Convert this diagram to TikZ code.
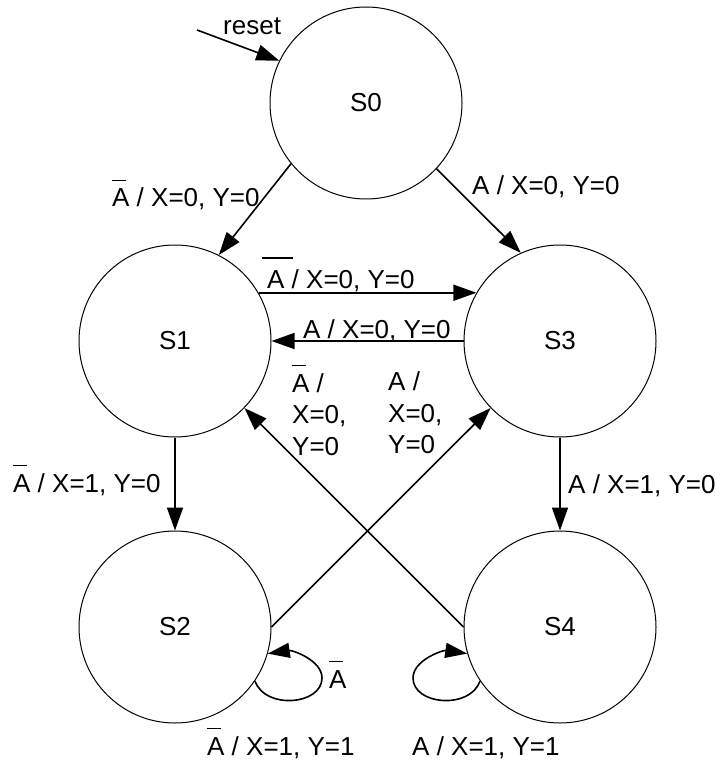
\documentclass[tikz,border=0pt]{standalone}
\usepackage{fontspec}
\setmainfont{Liberation Sans}
\usetikzlibrary{arrows.meta}
\newcommand\bA{\makebox[0pt][l]{\raisebox{1.0em}{\rule{0.53em}{0.05em}}}A}
\newcommand\wA{\makebox[0pt][l]{\hspace{-0.2em}\raisebox{1.13em}{\rule{1.2em}{0.05em}}}A}
\newcommand\lblfont{\fontsize{26}{31}\selectfont}
\begin{document}
\begin{tikzpicture}[x=1pt,y=-1pt,
  state/.style={circle,draw,line width=1pt,minimum size=192pt,inner sep=0pt,font=\lblfont},
  lab/.style={font=\lblfont,inner sep=0pt,anchor=base west},
  arr/.style={line width=1.6pt,-{Triangle[length=23pt,width=16pt]}},
  looparr/.style={line width=1.6pt,-{Triangle[length=22pt,width=15pt]}}]
\useasboundingbox (0,0) rectangle (725,767);
\node[state] (s0) at (366,103) {S0};
\node[state] (s1) at (175,341) {S1};
\node[state] (s3) at (560,341) {S3};
\node[state] (s2) at (175,627) {S2};
\node[state] (s4) at (560,627) {S4};
% reset
\coordinate (rs) at (197,30);
\draw[arr] (rs) -- (s0.154);
\node[lab] (lreset) at (223,35) {reset};
% S0 transitions
\draw[arr] (s0.219) -- (s1.63);
\node[lab] (l01) at (112,207) {\bA\ / X=0, Y=0};
\draw[arr] (s0.-43) -- (s3.114);
\node[lab] (l03) at (472,195) {A / X=0, Y=0};
% horizontal
\draw[arr] (s1.30) -- (s3.150);
\node[lab] (l13) at (267,288) {\wA\ / X=0, Y=0};
\draw[arr] (s3.west) -- (s1.east);
\node[lab] (l31) at (303,338) {A / X=0, Y=0};
% vertical
\draw[arr] (s1.south) -- (s2.north);
\node[lab] (l12) at (13,492) {\bA\ / X=1, Y=0};
\draw[arr] (s3.south) -- (s4.north);
\node[lab] (l34) at (568,493) {A / X=1, Y=0};
% diagonals
\draw[arr] (s2.east) -- (s3.224);
\draw[arr] (s4.west) -- (s1.-44);
\node[lab] (d1a) at (292,392) {\bA\ /};
\node[lab] (d1b) at (292,423) {X=0,};
\node[lab] (d1c) at (292,455) {Y=0};
\node[lab] (d2a) at (388,390) {A /};
\node[lab] (d2b) at (388,422) {X=0,};
\node[lab] (d2c) at (388,453) {Y=0};
% self loops
\draw[looparr] (s2.-34) .. controls (265,710) and (322,705) .. (322,678)
  .. controls (322,660) and (292,650) .. (s2.-16);
\node[lab] (lloop) at (329,688) {\bA};
\node[lab] (l22) at (207,755) {\bA\ / X=1, Y=1};
\draw[looparr] (s4.214) .. controls (470,710) and (413,705) .. (413,678)
  .. controls (413,660) and (443,650) .. (s4.196);
\node[lab] (l44) at (412,755) {A / X=1, Y=1};
\end{tikzpicture}
\end{document}
